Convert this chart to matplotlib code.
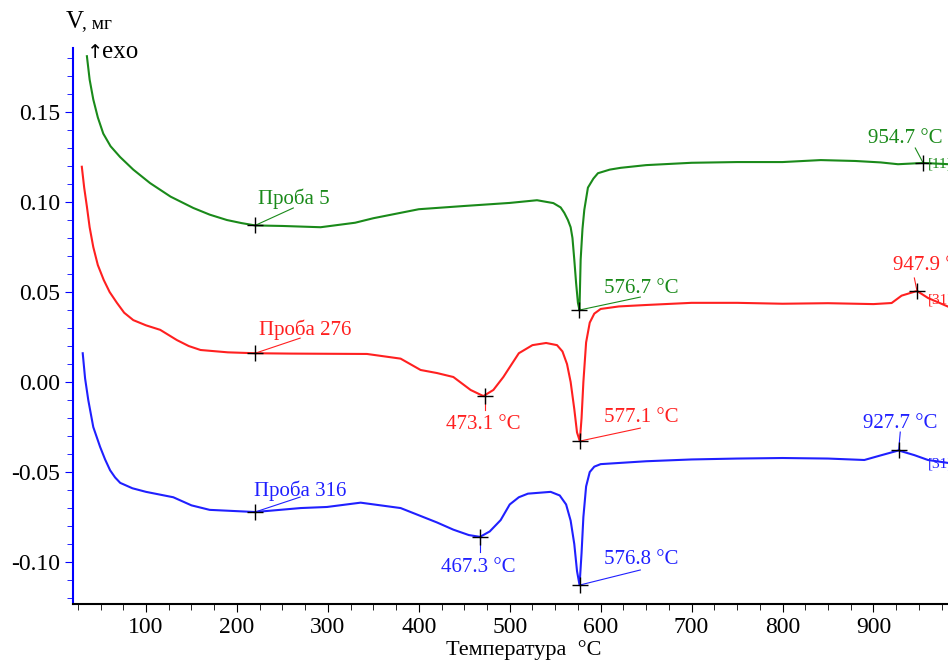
import numpy as np
import matplotlib
matplotlib.use('Agg')
import matplotlib.pyplot as plt
from matplotlib.ticker import MultipleLocator, FormatStrFormatter

plt.rcParams['font.family'] = ['Liberation Serif', 'DejaVu Serif']
plt.rcParams['axes.unicode_minus'] = False

# Проба 5 (green)
t5 = [35, 38, 42, 47, 53, 61, 71.5, 86, 104.5, 127, 152, 170, 189, 205, 220, 250, 292, 330, 350,
      380, 400, 450, 500, 530, 548, 556, 560, 564, 567, 569, 571, 573, 575, 576.7, 578, 580, 582,
      586, 592, 597, 610, 622, 650, 700, 750, 800, 842, 880, 908, 927, 954.7, 983]
v5 = [0.181, 0.168, 0.157, 0.147, 0.138, 0.131, 0.125, 0.118, 0.1105, 0.103, 0.0967, 0.093, 0.09,
      0.0883, 0.087, 0.0867, 0.086, 0.0885, 0.091, 0.094, 0.096, 0.0978, 0.0995, 0.101, 0.0994,
      0.097, 0.094, 0.090, 0.086, 0.080, 0.068, 0.055, 0.044, 0.040, 0.068, 0.085, 0.0956, 0.108,
      0.113, 0.116, 0.118, 0.119, 0.1205, 0.1218, 0.1222, 0.1222, 0.1233, 0.1228, 0.122, 0.121,
      0.1217, 0.121]

# Проба 276 (red)
t276 = [29.4, 32, 35, 38, 42, 47, 53.5, 60, 68, 76, 86, 100, 115.6, 134, 147, 160, 190, 220, 260,
        300, 343, 380, 402, 420, 438, 457, 471, 482, 493, 498, 510, 525, 540, 552, 558, 563, 567,
        571, 574, 577.1, 579, 581, 584, 588, 593, 600, 620, 650, 700, 750, 800, 850, 900, 920,
        931, 947.9, 960, 983]
v276 = [0.1196, 0.108, 0.0974, 0.086, 0.075, 0.065, 0.0567, 0.05, 0.044, 0.0385, 0.0344, 0.0315,
        0.029, 0.0233, 0.020, 0.0178, 0.0165, 0.016, 0.0158, 0.0157, 0.0156, 0.013, 0.0067, 0.005,
        0.0028, -0.0044, -0.0078, -0.0044, 0.0028, 0.0067, 0.016, 0.0205, 0.0217, 0.0205, 0.017,
        0.01, 0.0, -0.015, -0.028, -0.0328, -0.02, 0.0, 0.022, 0.033, 0.038, 0.0406, 0.042, 0.0428,
        0.044, 0.044, 0.0435, 0.0438, 0.0433, 0.0439, 0.048, 0.0506, 0.0467, 0.0417]

# Проба 316 (blue)
t316 = [30.4, 33, 36.5, 42, 49.5, 55, 60.5, 66, 71.6, 85, 100, 130, 150, 170, 220, 270, 299, 336,
        380, 400, 420, 438, 455, 467.3, 478, 490, 500, 510, 520, 545, 555, 562, 567, 571, 574,
        576.8, 579, 581, 584, 588, 593, 600, 650, 700, 750, 800, 850, 890, 909, 927.7, 945, 960,
        983]
v316 = [0.016, 0.002, -0.01, -0.025, -0.036, -0.043, -0.049, -0.053, -0.056, -0.059, -0.061,
        -0.064, -0.0685, -0.071, -0.0722, -0.070, -0.0694, -0.067, -0.070, -0.074, -0.078, -0.082,
        -0.085, -0.086, -0.083, -0.0767, -0.068, -0.064, -0.062, -0.061, -0.063, -0.068, -0.077,
        -0.09, -0.105, -0.1128, -0.095, -0.075, -0.058, -0.050, -0.047, -0.0456, -0.044, -0.043,
        -0.0425, -0.0422, -0.0425, -0.0433, -0.0406, -0.038, -0.0406, -0.0433, -0.045]

# annotations: marker x, y, text
ann5 = [(220, 0.087, 'Проба 5'), (576.7, 0.040, '576.7 °C'), (954.7, 0.1217, '954.7 °C')]
ann276 = [(220, 0.016, 'Проба 276'), (473.1, -0.0078, '473.1 °C'),
          (577.1, -0.0328, '577.1 °C'), (947.9, 0.0506, '947.9 °C')]
ann316 = [(220, -0.0722, 'Проба 316'), (467.3, -0.086, '467.3 °C'),
          (576.8, -0.1128, '576.8 °C'), (927.7, -0.038, '927.7 °C')]

# label placement: text x, text y, ha, leader end x, leader end y
place5 = [(262, 0.1018, 'center', 262, 0.0967),
          (604, 0.0518, 'left', 643.6, 0.0472),
          (935, 0.1352, 'center', 946, 0.130)]
place276 = [(275, 0.0291, 'center', 269.5, 0.0244),
            (471.3, -0.0237, 'center', 473.1, -0.0156),
            (604, -0.0198, 'left', 643.6, -0.0256),
            (921.8, 0.0646, 'left', 945, 0.0578)]
place316 = [(269.5, -0.0604, 'center', 269.5, -0.0639),
            (465, -0.1032, 'center', 467.3, -0.0944),
            (604, -0.0987, 'left', 643.6, -0.1044),
            (929, -0.0232, 'center', 929.5, -0.0278)]

fig = plt.figure(figsize=(9.48, 6.62), dpi=100)
ax = fig.add_axes([0.077, 0.0876, 0.923, 0.84])

series = [(t5, v5, '#1a8a1a', ann5, place5, '[11]', 0.1212),
          (t276, v276, '#ff2020', ann276, place276, '[31]', 0.0455),
          (t316, v316, '#2020ff', ann316, place316, '[31]', -0.0455)]

for t, v, c, anns, places, tag, tagy in series:
    ax.plot(t, v, color=c, lw=1.5)
    for (x, y, txt), (tx, ty, ha, lx, ly) in zip(anns, places):
        ax.plot([x, lx], [y, ly], color=c, lw=0.8)
        ax.plot(x, y, marker='+', color='black', ms=11, mew=1.0)
        ax.text(tx, ty, txt, color=c, fontsize=15, ha=ha, va='center')
    ax.text(960, tagy, tag, color=c, fontsize=11, ha='left', va='center')

ax.set_xlim(19.7, 982)
ax.set_ylim(-0.1233, 0.1856)

ax.spines['top'].set_visible(False)
ax.spines['right'].set_visible(False)
ax.spines['left'].set_color('blue')
ax.spines['left'].set_linewidth(1.5)
ax.spines['bottom'].set_color('black')
ax.spines['bottom'].set_linewidth(1.5)

ax.xaxis.set_major_locator(MultipleLocator(100))
ax.xaxis.set_minor_locator(MultipleLocator(25))
ax.yaxis.set_major_locator(MultipleLocator(0.05))
ax.yaxis.set_minor_locator(MultipleLocator(0.01))
ax.yaxis.set_major_formatter(FormatStrFormatter('%.2f'))
ax.tick_params(axis='y', which='both', colors='blue', labelcolor='black', labelsize=17)
ax.tick_params(axis='y', which='major', length=6)
ax.tick_params(axis='y', which='minor', length=4)
ax.tick_params(axis='x', which='major', length=6, labelsize=17)
ax.tick_params(axis='x', which='minor', length=4)

fig.text(0.069, 0.967, 'V', fontsize=18, ha='left', va='center')
fig.text(0.086, 0.965, ', мг', fontsize=14, ha='left', va='center')
fig.text(0.0915, 0.921, '↑', fontsize=14, ha='left', va='center', family=['DejaVu Sans'])
fig.text(0.108, 0.921, 'exo', fontsize=18, ha='left', va='center')
fig.text(0.553, 0.018, 'Температура  °C', fontsize=16, ha='center', va='center')

fig.savefig('out.png', dpi=100)
